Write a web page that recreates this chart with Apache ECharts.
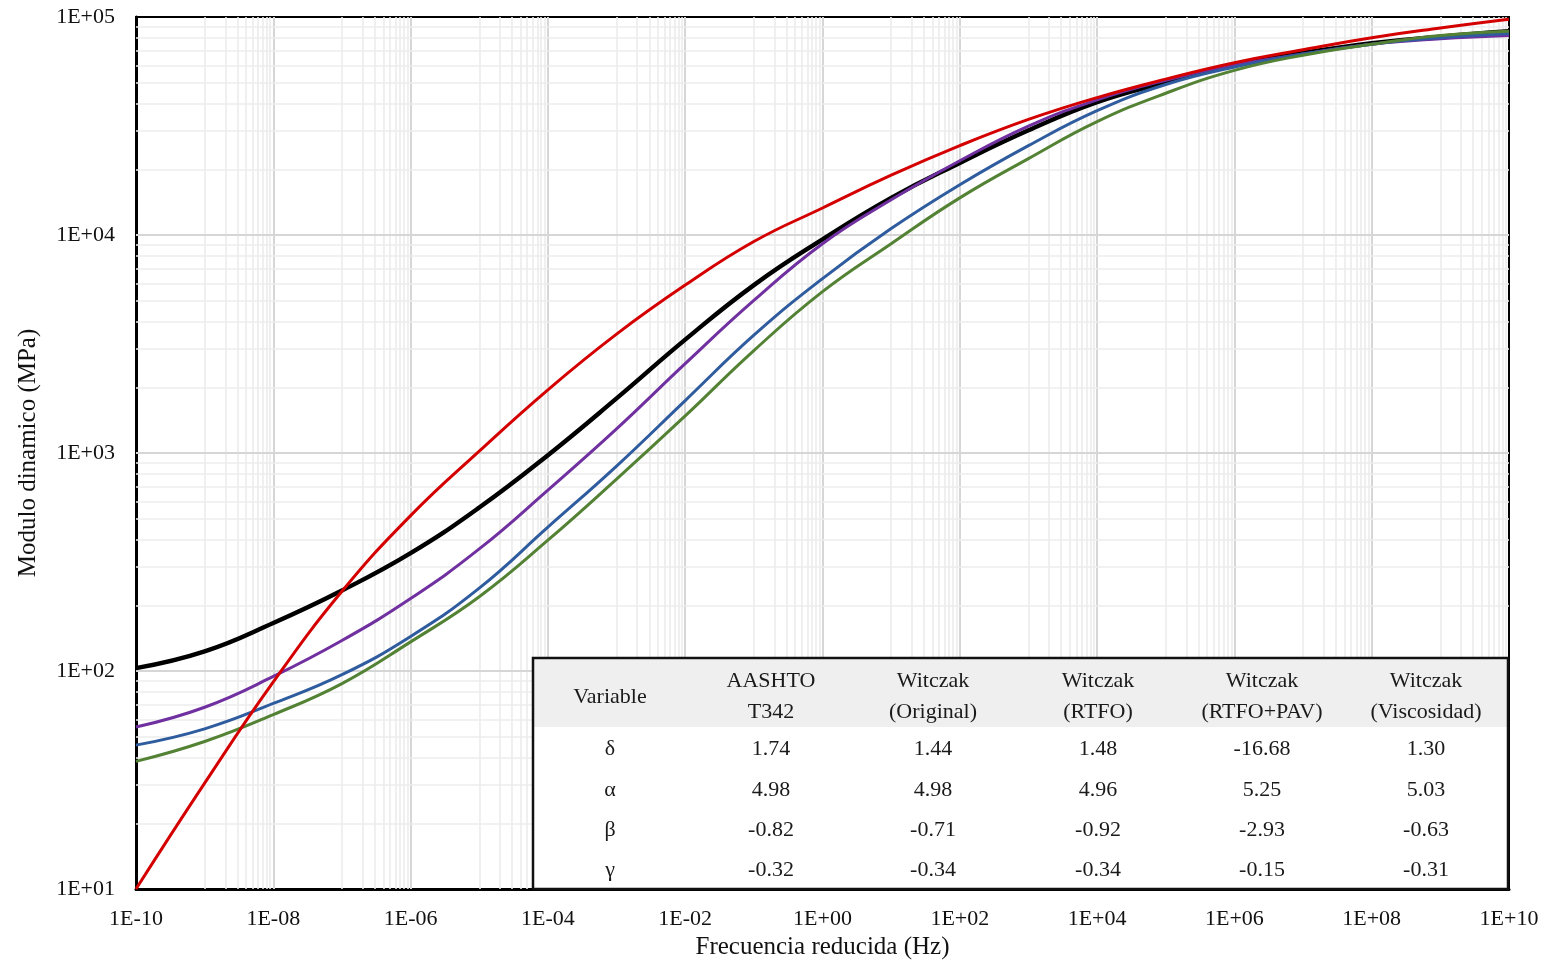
<!DOCTYPE html>
<html>
<head>
<meta charset="utf-8">
<title>Módulo dinámico vs frecuencia reducida</title>
<script src="https://cdn.jsdelivr.net/npm/echarts@6/dist/echarts.min.js"></script>
<style>
  html, body { margin: 0; padding: 0; background: #fff; }
  #chart { width: 1550px; height: 974px; }
</style>
</head>
<body>
<div id="chart"></div>
<script>
// Reduced frequency (Hz), one point per decade
const freq = [1e-10, 1e-9, 1e-8, 1e-7, 1e-6, 1e-5, 1e-4, 1e-3, 1e-2, 1e-1, 1e0,
              1e1, 1e2, 1e3, 1e4, 1e5, 1e6, 1e7, 1e8, 1e9, 1e10];

// Dynamic modulus |E*| (MPa) for each master curve
const aashtoT342 = [103, 123, 166, 234, 347, 562, 977, 1780, 3310, 5890, 9550,
                    14800, 21400, 30200, 40700, 50100, 60300, 68400, 75900, 81300, 86100];
const witczakPurple = [55.3, 68.2, 94.4, 138, 215, 363, 676, 1290, 2570, 5010, 9120,
                       14500, 21900, 31600, 41700, 51300, 60300, 67600, 75000, 79400, 82200];
const witczakBlue = [45.7, 54.3, 71.0, 96.2, 144, 240, 457, 871, 1740, 3470, 6310,
                     10700, 17000, 25700, 37200, 49000, 58900, 67600, 75000, 80400, 84100];
const witczakGreen = [38.5, 47.5, 63.1, 87.5, 136, 219, 398, 759, 1480, 2950, 5500,
                      9120, 14800, 22400, 33100, 44700, 56900, 66800, 75000, 82200, 86100];
const witczakRed = [10.0, 30.6, 89.1, 232, 516, 1020, 1950, 3510, 5890, 9330, 13300,
                    18800, 25700, 33900, 42700, 51900, 61700, 70800, 80400, 89100, 97700];

// Axis tick labels
const xTickValues = [1e-10, 1e-8, 1e-6, 1e-4, 1e-2, 1e0, 1e2, 1e4, 1e6, 1e8, 1e10];
const yTickValues = [1e1, 1e2, 1e3, 1e4, 1e5];

// Sigmoidal fit parameters shown in the inset table
const tableHeaders = ['Variable', 'AASHTO\nT342', 'Witczak\n(Original)', 'Witczak\n(RTFO)',
                      'Witczak\n(RTFO+PAV)', 'Witczak\n(Viscosidad)'];
const paramSymbols = ['δ', 'α', 'β', 'γ'];
const paramDelta = ['1.74', '1.44', '1.48', '-16.68', '1.30'];
const paramAlpha = ['4.98', '4.98', '4.96', '5.25', '5.03'];
const paramBeta  = ['-0.82', '-0.71', '-0.92', '-2.93', '-0.63'];
const paramGamma = ['-0.32', '-0.34', '-0.34', '-0.15', '-0.31'];

const FONT = '"Liberation Serif", "Times New Roman", serif';

function sci(v) {
  const e = Math.round(Math.log10(v));
  return '1E' + (e < 0 ? '-' : '+') + String(Math.abs(e)).padStart(2, '0');
}
function pairs(ys) { return freq.map((f, i) => [f, ys[i]]); }

// Grid lines: majors every decade (y) / two decades (x), minors Excel-style
const MAJOR = { color: '#d6d6d6', width: 2, type: 'solid' };
const MINOR = { color: '#ececec', width: 1.6, type: 'solid' };
const gridLines = [];
for (let k = -10; k < 10; k += 2) {
  for (let m = 1; m <= 9; m++) {
    gridLines.push({ xAxis: m * Math.pow(10, k + 1), lineStyle: MINOR });
  }
  if (k > -10) gridLines.push({ xAxis: Math.pow(10, k), lineStyle: MAJOR });
}
for (let n = 1; n < 5; n++) {
  for (let m = 2; m <= 9; m++) {
    gridLines.push({ yAxis: m * Math.pow(10, n), lineStyle: MINOR });
  }
  if (n > 1) gridLines.push({ yAxis: Math.pow(10, n), lineStyle: MAJOR });
}

// Inset table
const TBL = { left: 533, top: 658, width: 975, height: 231, headerH: 69 };
const colX = [610, 771, 933, 1098, 1262, 1426];
const rowY = [749, 790, 830, 870];
const rows = [paramDelta, paramAlpha, paramBeta, paramGamma];
const tableGraphics = [
  { type: 'rect', z: 100, shape: { x: TBL.left, y: TBL.top, width: TBL.width, height: TBL.height },
    style: { fill: '#ffffff', stroke: null } },
  { type: 'rect', z: 101, shape: { x: TBL.left, y: TBL.top, width: TBL.width, height: TBL.headerH },
    style: { fill: '#efefef', stroke: null } },
  { type: 'rect', z: 105, shape: { x: TBL.left, y: TBL.top, width: TBL.width, height: TBL.height },
    style: { fill: null, stroke: '#111', lineWidth: 2.5 } }
];
tableHeaders.forEach((h, c) => {
  tableGraphics.push({ type: 'text', z: 106, x: colX[c], y: 697,
    style: { text: h, fill: '#1a1a1a', font: '22px ' + FONT, align: 'center',
             verticalAlign: 'middle', lineHeight: 31 } });
});
paramSymbols.forEach((s, r) => {
  tableGraphics.push({ type: 'text', z: 106, x: colX[0], y: rowY[r],
    style: { text: s, fill: '#1a1a1a', font: '22px ' + FONT, align: 'center', verticalAlign: 'middle' } });
  rows[r].forEach((v, c) => {
    tableGraphics.push({ type: 'text', z: 106, x: colX[c + 1], y: rowY[r],
      style: { text: v, fill: '#1a1a1a', font: '22px ' + FONT, align: 'center', verticalAlign: 'middle' } });
  });
});

const chart = echarts.init(document.getElementById('chart'), null, { renderer: 'canvas' });

function curve(name, ys, color, width, z) {
  return {
    name, type: 'line', data: pairs(ys), z,
    showSymbol: false, smooth: 0.45,
    lineStyle: { color, width }, itemStyle: { color },
    emphasis: { disabled: true }
  };
}

chart.setOption({
  animation: false,
  backgroundColor: '#ffffff',
  grid: { left: 136, right: 41, top: 17, bottom: 85, show: true,
          borderColor: '#000', borderWidth: 2, containLabel: false },
  xAxis: {
    type: 'log', logBase: 10, min: 1e-10, max: 1e10,
    name: 'Frecuencia reducida (Hz)', nameLocation: 'middle', nameGap: 40,
    nameTextStyle: { fontFamily: FONT, fontSize: 25, color: '#111' },
    axisLine: { show: true, lineStyle: { color: '#000', width: 3 } },
    axisTick: { show: false },
    splitLine: { show: false },
    axisLabel: { customValues: xTickValues, formatter: sci, fontFamily: FONT,
                 fontSize: 22, color: '#111', margin: 19 }
  },
  yAxis: {
    type: 'log', logBase: 10, min: 10, max: 1e5,
    name: 'Modulo dinamico (MPa)', nameLocation: 'middle', nameGap: 95,
    nameTextStyle: { fontFamily: FONT, fontSize: 25, color: '#111' },
    axisLine: { show: true, lineStyle: { color: '#000', width: 3 } },
    axisTick: { show: false },
    splitLine: { show: false },
    axisLabel: { customValues: yTickValues, formatter: sci, fontFamily: FONT,
                 fontSize: 22, color: '#111', margin: 21 }
  },
  series: [
    { name: 'grid', type: 'line', data: [], z: 1, silent: true,
      markLine: { z: 1, zlevel: 0, silent: true, symbol: 'none', precision: 15,
                  label: { show: false }, emphasis: { disabled: true },
                  animation: false, data: gridLines } },
    curve('AASHTO T342', aashtoT342, '#000000', 4.4, 3),
    curve('Witczak (Original)', witczakPurple, '#7030A0', 3, 4),
    curve('Witczak (RTFO)', witczakBlue, '#2F5C9E', 3, 5),
    curve('Witczak (Viscosidad)', witczakGreen, '#548235', 3, 6),
    curve('Witczak (RTFO+PAV)', witczakRed, '#D40000', 3, 7)
  ],
  graphic: { elements: tableGraphics }
});
</script>
</body>
</html>
